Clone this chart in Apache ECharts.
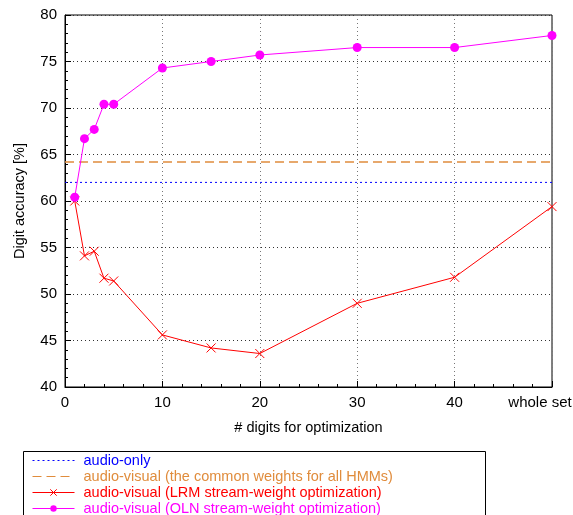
<!DOCTYPE html>
<html>
<head>
<meta charset="utf-8">
<script src="https://cdn.jsdelivr.net/npm/echarts@6/dist/echarts.min.js"></script>
<style>
  html, body { margin: 0; padding: 0; background: #fff; }
  #chart { width: 573px; height: 515px; }
</style>
</head>
<body>
<div id="chart"></div>
<script>
// x = number of digits used for optimization; 50 stands for "whole set"
var digits = [1, 2, 3, 4, 5, 10, 15, 20, 30, 40, 50];
var oln = [60.4, 66.7, 67.7, 70.4, 70.4, 74.3, 75.0, 75.7, 76.5, 76.5, 77.8];
var lrm = [60.0, 54.1, 54.6, 51.7, 51.4, 45.6, 44.2, 43.6, 49.0, 51.8, 59.4];
var audioOnly = 62.0;
var commonWeights = 64.2;
var xTicks = {0: '0', 10: '10', 20: '20', 30: '30', 40: '40', 50: '{w|whole set}'};

var names = [
    'audio-only',
    'audio-visual (the common weights for all HMMs)',
    'audio-visual (LRM stream-weight optimization)',
    'audio-visual (OLN stream-weight optimization)'
];
var colors = ['#0000ff', '#e08c3c', '#ff0000', '#ff00ff'];
var hideMark = [true, true, false, false];

function pairs(ys) {
    return digits.map(function (d, i) { return [d, ys[i]]; });
}

var chart = echarts.init(document.getElementById('chart'));
var font = 'Liberation Sans, Arial, sans-serif';

// one legend per row so the box at the bottom never wraps into columns
var legends = names.map(function (n, i) {
    var item = {name: n, textStyle: {color: colors[i]}, lineStyle: {width: 1}};
    if (hideMark[i]) item.itemStyle = {opacity: 0};
    else if (i === 2) item.itemStyle = {borderWidth: 1};
    return {
        orient: 'vertical',
        left: 32, top: 453 + i * 16,
        padding: 0,
        itemWidth: 42,
        itemHeight: 8,
        textStyle: {fontSize: 14.5, fontFamily: font, padding: [0, 0, 0, 4]},
        data: [item]
    };
});

option = {
    animation: false,
    textStyle: {fontFamily: font},
    grid: {
        left: 65, right: 21, top: 15, bottom: 128,
        outerBoundsMode: 'none',
        show: true, borderColor: '#000', borderWidth: 1
    },
    xAxis: {
        type: 'value',
        min: 0, max: 50, interval: 10,
        name: '# digits for optimization',
        nameLocation: 'middle',
        nameGap: 33,
        nameTextStyle: {color: '#000', fontSize: 14.5},
        axisLine: {lineStyle: {color: '#000'}},
        axisTick: {inside: true, length: 6, lineStyle: {color: '#000'}},
        minorTick: {show: true, splitNumber: 5, length: 3, lineStyle: {color: '#000'}},
        axisLabel: {
            color: '#000', fontSize: 15, margin: 8,
            formatter: function (v) { return xTicks[v]; },
            rich: {w: {fontSize: 15, color: '#000', padding: [0, 24, 0, 0]}}
        },
        splitLine: {show: true, lineStyle: {color: '#777', type: [1, 3]}}
    },
    yAxis: {
        type: 'value',
        min: 40, max: 80, interval: 5,
        name: 'Digit accuracy [%]',
        nameLocation: 'middle',
        nameGap: 38,
        nameTextStyle: {color: '#000', fontSize: 14.5},
        axisLine: {show: true, lineStyle: {color: '#000'}},
        axisTick: {show: true, inside: true, length: 6, lineStyle: {color: '#000'}},
        minorTick: {show: true, splitNumber: 5, length: 3, lineStyle: {color: '#000'}},
        axisLabel: {color: '#000', fontSize: 15, margin: 8},
        splitLine: {show: true, lineStyle: {color: '#333', type: [1, 3]}}
    },
    legend: legends,
    graphic: [{
        type: 'rect',
        shape: {x: 23.5, y: 451.5, width: 462, height: 80},
        style: {fill: 'none', stroke: '#000', lineWidth: 1},
        silent: true
    }],
    series: [
        {
            name: names[0], type: 'line',
            data: [[0, audioOnly], [50, audioOnly]],
            symbol: 'none',
            itemStyle: {color: colors[0]},
            lineStyle: {color: colors[0], width: 1, type: [2, 3]}
        },
        {
            name: names[1], type: 'line',
            data: [[0, commonWeights], [50, commonWeights]],
            symbol: 'none',
            itemStyle: {color: colors[1]},
            lineStyle: {color: colors[1], width: 1.5, type: [9, 5]}
        },
        {
            name: names[2], type: 'line',
            data: pairs(lrm),
            symbol: 'path://M0,0L10,10M10,0L0,10',
            symbolSize: 9,
            itemStyle: {color: 'none', borderColor: colors[2], borderWidth: 1},
            lineStyle: {color: colors[2], width: 1}
        },
        {
            name: names[3], type: 'line',
            data: pairs(oln),
            symbol: 'circle',
            symbolSize: 9,
            itemStyle: {color: colors[3]},
            lineStyle: {color: colors[3], width: 1}
        }
    ]
};
chart.setOption(option);
</script>
</body>
</html>
